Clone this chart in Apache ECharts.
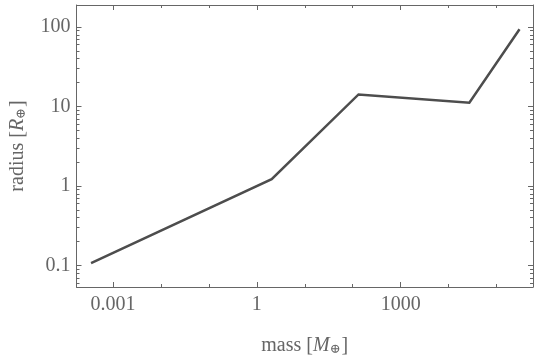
<!DOCTYPE html>
<html><head><meta charset="utf-8">
<script src="https://cdn.jsdelivr.net/npm/echarts@6/dist/echarts.min.js"></script>
<style>html,body{margin:0;padding:0;background:#fff}#c{width:540px;height:361px}</style>
</head><body><div id="c"></div>
<script>
// Data
var massValues = [3.5e-4, 2.04, 132, 27000, 3.0e5];
var radiusValues = [0.107, 1.22, 14.2, 11.2, 94];
// Axes ranges and ticks
var xMin = 1.74e-4, xMax = 5.73e5;
var yMin = 0.0537, yMax = 189.6;
var xMajorTicks = [0.001, 1, 1000];
var xTickLabels = ['0.001', '1', '1000'];
var xMinorTicks = [0.01, 0.1, 10, 100, 10000, 100000];
var yMajorTicks = [0.1, 1, 10, 100];
var yTickLabels = ['0.1', '1', '10', '100'];
var yMinorTicks = [0.06, 0.07, 0.08, 0.09, 0.2, 0.3, 0.4, 0.5, 0.6, 0.7, 0.8, 0.9,
                   2, 3, 4, 5, 6, 7, 8, 9, 20, 30, 40, 50, 60, 70, 80, 90];

var frameColor = '#666666';
var textColor = '#666666';
var font = '"Liberation Serif","DejaVu Serif",serif';

function labelFor(vals, labels) {
  return function (v) {
    for (var i = 0; i < vals.length; i++) {
      if (Math.abs(Math.log10(v) - Math.log10(vals[i])) < 1e-6) return labels[i];
    }
    return '';
  };
}

function xAxisDef(pos, ticks, len, showLine, showLabel) {
  return {
    type: 'log', logBase: 10, position: pos, min: xMin, max: xMax, gridIndex: 0,
    axisLine: {show: showLine, lineStyle: {color: frameColor, width: 1}},
    axisTick: {show: true, inside: true, length: len, customValues: ticks, lineStyle: {color: frameColor, width: 1}},
    axisLabel: showLabel ? {show: true, customValues: xMajorTicks, formatter: labelFor(xMajorTicks, xTickLabels),
      color: textColor, fontFamily: font, fontSize: 20, margin: 8} : {show: false},
    splitLine: {show: false}, minorTick: {show: false}
  };
}
function yAxisDef(pos, ticks, len, showLine, showLabel) {
  return {
    type: 'log', logBase: 10, position: pos, min: yMin, max: yMax, gridIndex: 0,
    axisLine: {show: showLine, lineStyle: {color: frameColor, width: 1}},
    axisTick: {show: true, inside: true, length: len, customValues: ticks, lineStyle: {color: frameColor, width: 1}},
    axisLabel: showLabel ? {show: true, customValues: yMajorTicks, formatter: labelFor(yMajorTicks, yTickLabels),
      color: textColor, fontFamily: font, fontSize: 20, margin: 6} : {show: false},
    splitLine: {show: false}, minorTick: {show: false}
  };
}

var xa0 = xAxisDef('bottom', xMajorTicks, 5, true, true);
xa0.name = '{a|mass [}{i|M}{s|⊕}{a|]}';
xa0.nameLocation = 'middle';
xa0.nameGap = 48;
xa0.nameTextStyle = {rich: {
  a: {fontFamily: font, fontSize: 20, color: textColor},
  i: {fontFamily: font, fontSize: 20, fontStyle: 'italic', color: textColor},
  s: {fontFamily: font, fontSize: 13, color: textColor, verticalAlign: 'bottom', padding: [8, 1, 0, 0]}
}};
var ya0 = yAxisDef('left', yMajorTicks, 5, true, true);
ya0.name = '{a|radius [}{i|R}{s|⊕}{a|]}';
ya0.nameLocation = 'middle';
ya0.nameGap = 48;
ya0.nameRotate = 90;
ya0.nameTextStyle = xa0.nameTextStyle;

var chart = echarts.init(document.getElementById('c'), null, {renderer: 'canvas'});
chart.setOption({
  animation: false,
  backgroundColor: '#ffffff',
  grid: {left: 73, right: 7, top: 5, bottom: 71, containLabel: false},
  xAxis: [
    xa0,
    xAxisDef('bottom', xMinorTicks, 3, false, false),
    xAxisDef('top', xMajorTicks, 5, true, false),
    xAxisDef('top', xMinorTicks, 3, false, false)
  ],
  yAxis: [
    ya0,
    yAxisDef('left', yMinorTicks, 3, false, false),
    yAxisDef('right', yMajorTicks, 5, true, false),
    yAxisDef('right', yMinorTicks, 3, false, false)
  ],
  series: [{
    type: 'line', xAxisIndex: 0, yAxisIndex: 0,
    data: massValues.map(function (m, i) { return [m, radiusValues[i]]; }),
    showSymbol: false, symbol: 'none',
    lineStyle: {color: '#4d4d4d', width: 2.5, cap: 'butt', join: 'miter'}
  }]
});
</script></body></html>
